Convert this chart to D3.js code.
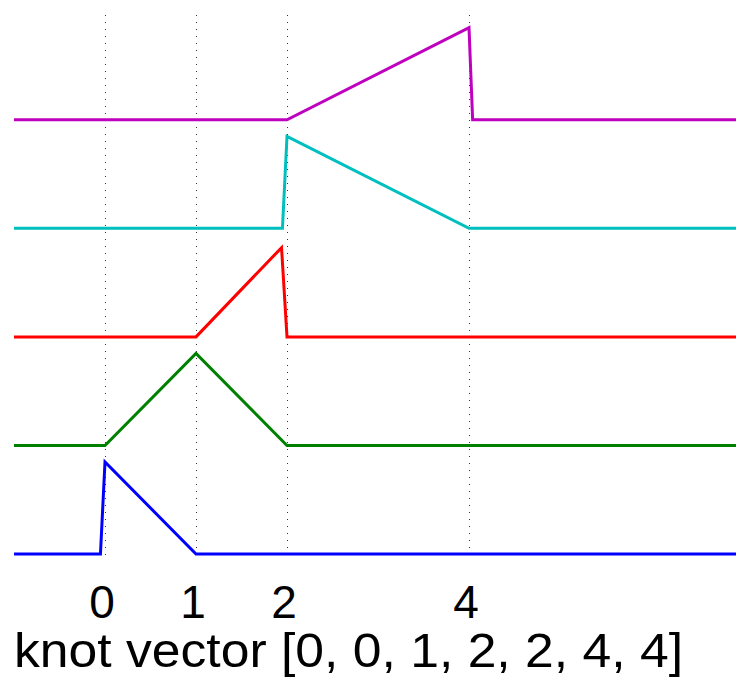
<!DOCTYPE html>
<html lang="en">
<head>
  <meta charset="UTF-8">
  <title>B-spline basis, degree 1</title>
  <script src="https://d3js.org/d3.v7.min.js"></script>
  <style>
    html, body {
      margin: 0;
      padding: 0;
      background: #fff;
    }
    .basis {
      fill: none;
      stroke-width: 3;
      stroke-linejoin: miter;
    }
    .knot-line {
      stroke: #333;
      stroke-width: 1;
      stroke-dasharray: 1, 6;
      shape-rendering: crispEdges;
    }
    text {
      font-family: "Liberation Sans", Arial, sans-serif;
      fill: #000;
    }
  </style>
</head>
<body>
  <div id="container"></div>
  <script>
    const width = 736;
    const height = 678;

    // knot vector and the distinct knots shown as dotted lines / ticks
    const knots = [0, 0, 1, 2, 2, 4, 4];
    const tickValues = [0, 1, 2, 4];

    // basis functions N0..N4, vertices
    const n0x = [-1, -0.05, 0, 1, 7];
    const n0y = [0, 0, 1, 0, 0];
    const n1x = [-1, 0, 1, 2, 7];
    const n1y = [0, 0, 1, 0, 0];
    const n2x = [-1, 1, 1.94, 2, 7];
    const n2y = [0, 0, 0.97, 0, 0];
    const n3x = [-1, 1.95, 2, 4, 7];
    const n3y = [0, 0, 1, 0, 0];
    const n4x = [-1, 2, 4, 4.04, 7];
    const n4y = [0, 0, 1, 0, 0];

    const colors = ['#0000ff', '#008000', '#ff0000', '#00bfbf', '#bf00bf'];
    const offsetStep = 1.18; // vertical shift between stacked curves

    const series = [[n0x, n0y], [n1x, n1y], [n2x, n2y], [n3x, n3y], [n4x, n4y]];

    let svg = d3.select('#container').append('svg')
      .attr('width', width).attr('height', height);

    const xScale = d3.scaleLinear().domain([-1, 7]).range([14, 742]);
    const yScale = d3.scaleLinear().domain([0, 1]).range([554, 462]);

    // dotted lines at the knots
    svg.selectAll('.knot-line').data(tickValues).enter().append('line')
      .attr('class', 'knot-line')
      .attr('x1', d => Math.round(xScale(d)) + 0.5).attr('x2', d => Math.round(xScale(d)) + 0.5)
      .attr('y1', yScale(-0.01)).attr('y2', yScale(5.9));

    const line = d3.line()
      .x(d => xScale(d[0]))
      .y(d => yScale(d[1]));

    series.forEach(([xs, ys], i) => {
      const pts = xs.map((x, j) => [x, ys[j] + i * offsetStep]);
      svg.append('path').datum(pts)
        .attr('class', 'basis')
        .attr('stroke', colors[i])
        .attr('d', line);
    });

    // tick labels under the knots
    svg.selectAll('.tick-label').data(tickValues).enter().append('text')
      .attr('class', 'tick-label')
      .attr('x', d => xScale(d) - 3)
      .attr('y', 618)
      .attr('text-anchor', 'middle')
      .attr('font-size', 46)
      .text(d => d);

    svg.append('text')
      .attr('x', 14)
      .attr('y', 667)
      .attr('font-size', 48)
      .attr('textLength', 669)
      .attr('lengthAdjust', 'spacingAndGlyphs')
      .text('knot vector [' + knots.join(', ') + ']');
  </script>
</body>
</html>
